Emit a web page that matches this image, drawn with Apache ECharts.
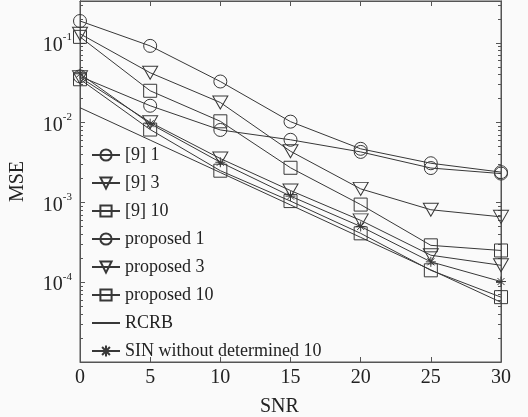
<!DOCTYPE html>
<html>
<head>
<meta charset="utf-8">
<script src="https://cdn.jsdelivr.net/npm/echarts@6/dist/echarts.min.js"></script>
<style>
  html, body { margin: 0; padding: 0; background: #fff; }
  #main { width: 528px; height: 417px; background: #fafafa; }
</style>
</head>
<body>
<div id="main"></div>
<script>
// SNR points (dB)
const snr = [0, 5, 10, 15, 20, 25, 30];

// MSE values
const ref9_1 = [0.188, 0.0917, 0.0328, 0.0103, 0.0047, 0.0031, 0.0024];
const ref9_3 = [0.130, 0.0422, 0.0179, 0.00438, 0.00148, 0.00081, 0.00066];
const ref9_10 = [0.119, 0.0251, 0.0104, 0.00272, 0.00094, 0.00029, 0.00025];
const prop1 = [0.038, 0.0163, 0.0081, 0.0061, 0.0043, 0.0027, 0.0023];
const prop3 = [0.037, 0.0101, 0.00355, 0.00141, 0.000596, 0.000218, 0.000163];
const prop10 = [0.035, 0.0082, 0.0025, 0.00104, 0.00041, 0.000141, 0.000065];
const rcrb = [0.0154, 0.00604, 0.00237, 0.00093, 0.000365, 0.000143, 0.000056];
const sin10 = [0.041, 0.0097, 0.00319, 0.0012, 0.0005, 0.00018, 0.000102];

const seriesNames = ['[9] 1', '[9] 3', '[9] 10', 'proposed 1', 'proposed 3', 'proposed 10', 'RCRB', 'SIN without determined 10'];

const FONT = 'Liberation Serif';
const LINE = '#383838';
const AXIS = '#555';
const yMin = 1e-5;
const yMax = 0.335;

// minor log ticks 2..9 of each decade
const minorTicks = [];
for (let e = -5; e <= -1; e++) {
  for (let m = 2; m <= 9; m++) {
    const v = m * Math.pow(10, e);
    if (v < yMax) minorTicks.push(v);
  }
}

const asterisk = 'path://M5,0L5,10M0,5L10,5M1.5,1.5L8.5,8.5M1.5,8.5L8.5,1.5';

function pairs(arr) {
  return snr.map((x, i) => [x, arr[i]]);
}

function mkSeries(name, data, symbol, size, rotate) {
  return {
    name: name,
    type: 'line',
    data: pairs(data),
    symbol: symbol,
    symbolSize: size,
    symbolRotate: rotate || 0,
    showSymbol: name !== 'RCRB',
    lineStyle: { color: LINE, width: 1 },
    itemStyle: { color: 'transparent', borderColor: LINE, borderWidth: 1 },
    emphasis: { disabled: true },
    z: 3
  };
}

function yLabel(v) {
  const lg = Math.log10(v);
  const e = Math.round(lg);
  if (Math.abs(lg - e) > 0.01 || e < -4 || e > -1) return '';
  return '{b|10}{s|' + e + '}';
}

// legend entries; RCRB is a plain line without marker
const legendData = seriesNames.map(n => n === 'RCRB'
  ? { name: n, itemStyle: { borderWidth: 0, borderColor: 'transparent', color: 'transparent' } }
  : { name: n });

const chartDom = document.getElementById('main');
const myChart = echarts.init(chartDom);
let option;

const yCommon = {
  type: 'log',
  logBase: 10,
  min: yMin,
  max: yMax,
  splitLine: { show: false },
  axisLine: { show: true, lineStyle: { color: AXIS } }
};

option = {
  animation: false,
  backgroundColor: '#fafafa',
  grid: { left: 80, right: 27, top: 1, bottom: 55, show: true, borderColor: AXIS, borderWidth: 1 },
  title: {
    text: 'SNR',
    left: 255,
    top: 392,
    textStyle: { fontFamily: FONT, fontSize: 20, fontWeight: 'normal', color: '#222' }
  },
  legend: {
    orient: 'vertical',
    left: 86,
    top: 141,
    itemGap: 10,
    itemWidth: 28,
    itemHeight: 14,
    selectedMode: false,
    data: legendData,
    textStyle: { fontFamily: FONT, fontSize: 18, color: '#222' }
  },
  xAxis: [
    {
      type: 'value',
      min: 0,
      max: 30,
      interval: 5,
      splitLine: { show: false },
      axisLine: { lineStyle: { color: AXIS } },
      axisTick: { inside: true, length: 5, lineStyle: { color: AXIS } },
      axisLabel: { fontFamily: FONT, fontSize: 20, color: '#222', margin: 6 }
    },
    {
      type: 'value',
      position: 'top',
      min: 0,
      max: 30,
      interval: 5,
      splitLine: { show: false },
      axisLine: { lineStyle: { color: AXIS } },
      axisTick: { inside: true, length: 5, lineStyle: { color: AXIS } },
      axisLabel: { show: false }
    }
  ],
  yAxis: [
    Object.assign({}, yCommon, {
      position: 'left',
      name: 'MSE',
      nameLocation: 'middle',
      nameGap: 52,
      nameTextStyle: { fontFamily: FONT, fontSize: 20, color: '#222' },
      axisTick: { inside: true, length: 5, lineStyle: { color: AXIS } },
      axisLabel: {
        margin: 8,
        formatter: yLabel,
        rich: {
          b: { fontFamily: FONT, fontSize: 20, color: '#222', lineHeight: 22, padding: [6, 0, 0, 0] },
          s: { fontFamily: FONT, fontSize: 11, color: '#222', verticalAlign: 'top', lineHeight: 11 }
        }
      }
    }),
    Object.assign({}, yCommon, {
      position: 'left',
      axisTick: { inside: true, length: 3, customValues: minorTicks, lineStyle: { color: AXIS } },
      axisLabel: { show: false }
    }),
    Object.assign({}, yCommon, {
      position: 'right',
      axisTick: { inside: true, length: 5, lineStyle: { color: AXIS } },
      axisLabel: { show: false }
    }),
    Object.assign({}, yCommon, {
      position: 'right',
      axisTick: { inside: true, length: 3, customValues: minorTicks, lineStyle: { color: AXIS } },
      axisLabel: { show: false }
    })
  ],
  series: [
    mkSeries(seriesNames[0], ref9_1, 'circle', 13),
    mkSeries(seriesNames[1], ref9_3, 'triangle', [15, 13], 180),
    mkSeries(seriesNames[2], ref9_10, 'rect', 13),
    mkSeries(seriesNames[3], prop1, 'circle', 13),
    mkSeries(seriesNames[4], prop3, 'triangle', [15, 13], 180),
    mkSeries(seriesNames[5], prop10, 'rect', 13),
    mkSeries(seriesNames[6], rcrb, 'circle', 0),
    mkSeries(seriesNames[7], sin10, asterisk, 10)
  ]
};

option && myChart.setOption(option);
</script>
</body>
</html>
